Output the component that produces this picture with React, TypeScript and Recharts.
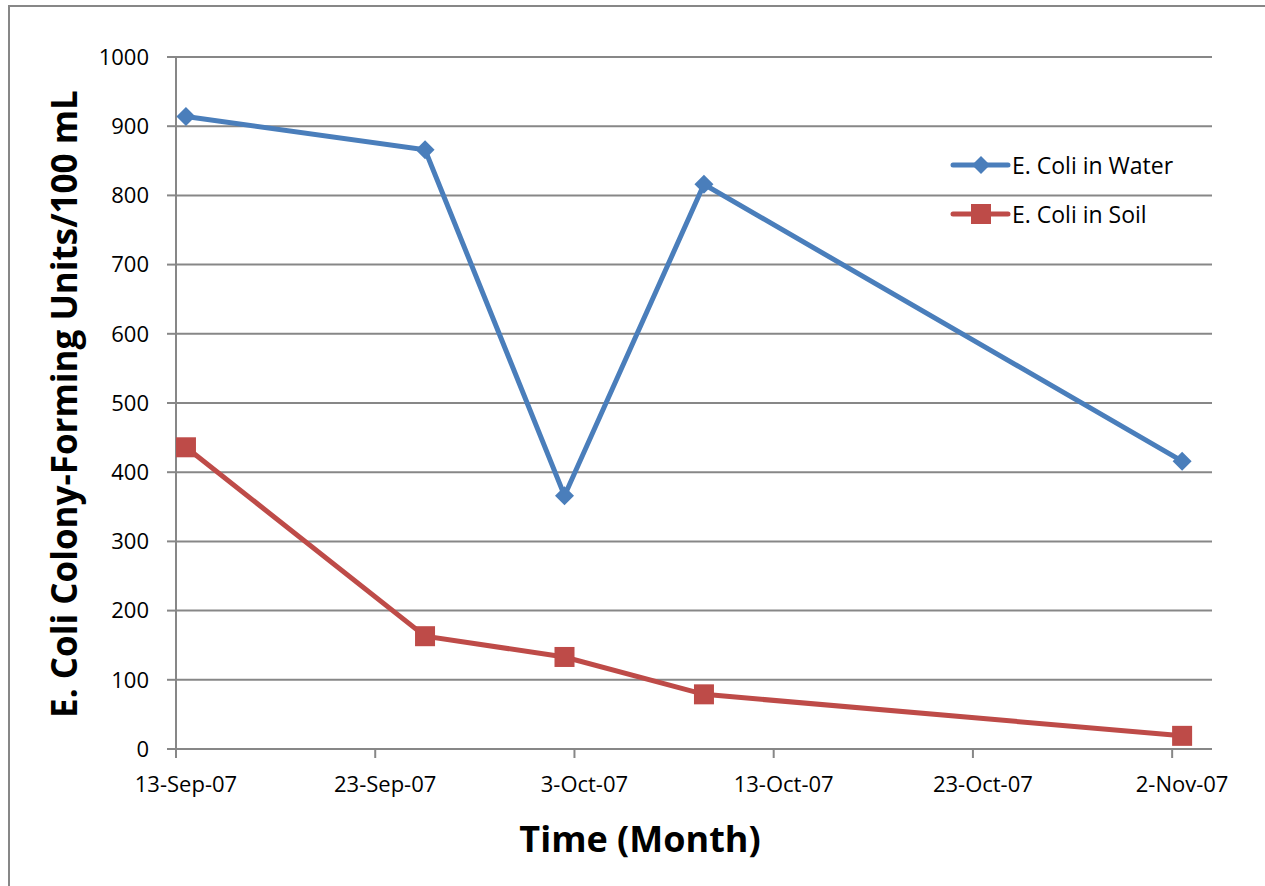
import { CartesianGrid, Label, Legend, Line, LineChart, XAxis, YAxis } from "recharts";

const sampleDates = ["13-Sep-07", "25-Sep-07", "2-Oct-07", "9-Oct-07", "2-Nov-07"];
const waterCfu = [914, 866, 366, 816, 416];
const soilCfu = [436, 163, 133, 79, 19];
const tickDates = ["13-Sep-07", "23-Sep-07", "3-Oct-07", "13-Oct-07", "23-Oct-07", "2-Nov-07"];
const yTicks = [0, 100, 200, 300, 400, 500, 600, 700, 800, 900, 1000];
const seriesOrder = ["water", "soil"];

const BLUE = "#4A7EBB";
const RED = "#BE4B48";
const GRID = "#878787";
const FONT = "'Open Sans', sans-serif";

const CHART_W = 1265;
const CHART_H = 886;
const MARGIN = { top: 57, right: 53, bottom: 0, left: 0 };
const Y_AXIS_W = 176;
const X_AXIS_H = 137;
const DOMAIN_DAYS = 52;

const MONTHS = ["Jan", "Feb", "Mar", "Apr", "May", "Jun", "Jul", "Aug", "Sep", "Oct", "Nov", "Dec"];

// "13-Sep-07" -> whole days since epoch
function dayOf(label: string) {
  const [d, m, y] = label.split("-");
  return Date.UTC(2000 + Number(y), MONTHS.indexOf(m), Number(d)) / 86400000;
}

const startDay = dayOf(tickDates[0]);
const tickDays = tickDates.map(dayOf);

// Excel plots each date in the middle of its day
const data = sampleDates.map((date, i) => ({
  x: dayOf(date) + 0.5,
  water: waterCfu[i],
  soil: soilCfu[i]
}));

const plotW = CHART_W - MARGIN.left - MARGIN.right - Y_AXIS_W;
const halfDayPx = plotW / DOMAIN_DAYS / 2;

function DiamondDot(props: any) {
  const { cx, cy, index } = props;
  if (cx == null || cy == null) return null;
  const r = 9.5;
  return (
    <polygon
      key={`w-${index}`}
      points={`${cx},${cy - r} ${cx + r},${cy} ${cx},${cy + r} ${cx - r},${cy}`}
      fill={BLUE}
    />
  );
}

function SquareDot(props: any) {
  const { cx, cy, index } = props;
  if (cx == null || cy == null) return null;
  const s = 10;
  return <rect key={`s-${index}`} x={cx - s} y={cy - s} width={s * 2} height={s * 2} fill={RED} />;
}

function LegendBox({ payload }: any) {
  const items = [...(payload ?? [])].sort(
    (a: any, b: any) => seriesOrder.indexOf(a.dataKey) - seriesOrder.indexOf(b.dataKey)
  );
  return (
    <div style={{ fontFamily: FONT }}>
      {items.map((item: any) => {
        const isWater = item.dataKey === "water";
        return (
          <div key={item.value} style={{ display: "flex", alignItems: "center", height: 49 }}>
            <svg width={62} height={24}>
              <line x1={3} y1={12} x2={58} y2={12} stroke={item.color} strokeWidth={5} strokeLinecap="round" />
              {isWater ? (
                <polygon points="31,3 40,12 31,21 22,12" fill={item.color} />
              ) : (
                <rect x={21} y={2} width={20} height={20} fill={item.color} />
              )}
            </svg>
            <span style={{ fontSize: 23, color: "#000", marginLeft: 0 }}>{item.value}</span>
          </div>
        );
      })}
    </div>
  );
}

export default function App() {
  return (
    <div
      style={{
        position: "fixed",
        left: 0,
        top: 0,
        width: CHART_W,
        height: CHART_H,
        overflow: "hidden",
        background: "#fff",
        fontFamily: FONT
      }}
    >
      <div
        style={{
          position: "absolute",
          left: 8,
          top: 5,
          width: 1400,
          height: 1000,
          border: `2px solid ${GRID}`
        }}
      />
      <div style={{ position: "absolute", left: 0, top: 0 }}>
        <LineChart width={CHART_W} height={CHART_H} data={data} margin={MARGIN}>
          <CartesianGrid vertical={false} stroke={GRID} strokeWidth={2} />
          <XAxis
            type="number"
            dataKey="x"
            domain={[startDay, startDay + DOMAIN_DAYS]}
            ticks={tickDays}
            tickFormatter={(v: number) => tickDates[tickDays.indexOf(v)] ?? ""}
            height={X_AXIS_H}
            tickSize={9}
            tickMargin={18}
            axisLine={{ stroke: GRID, strokeWidth: 2 }}
            tickLine={{ stroke: GRID, strokeWidth: 2 }}
            tick={{ fill: "#000", fontSize: 22, fontFamily: FONT, dx: halfDayPx }}
            allowDataOverflow
          >
            <Label
              content={() => (
                <text
                  x={640}
                  y={852}
                  textAnchor="middle"
                  fontFamily={FONT}
                  fontWeight={700}
                  fontSize={36}
                  fill="#000"
                >
                  Time (Month)
                </text>
              )}
            />
          </XAxis>
          <YAxis
            domain={[0, 1000]}
            ticks={yTicks}
            width={Y_AXIS_W}
            tickSize={9}
            tickMargin={18}
            axisLine={{ stroke: GRID, strokeWidth: 2 }}
            tickLine={{ stroke: GRID, strokeWidth: 2 }}
            tick={{ fill: "#000", fontSize: 22, fontFamily: FONT }}
          >
            <Label
              content={() => (
                <text
                  x={63}
                  y={404}
                  transform="rotate(-90 63 404)"
                  textAnchor="middle"
                  dominantBaseline="central"
                  fontFamily={FONT}
                  fontWeight={700}
                  fontSize={35}
                  fill="#000"
                >
                  E. Coli Colony-Forming Units/100 mL
                </text>
              )}
            />
          </YAxis>
          <Legend
            layout="vertical"
            align="center"
            verticalAlign="middle"
            content={<LegendBox />}
            wrapperStyle={{ left: 950, top: 140, width: 280 }}
          />
          <Line
            type="linear"
            dataKey="water"
            name="E. Coli in Water"
            stroke={BLUE}
            strokeWidth={5}
            dot={DiamondDot}
            activeDot={false}
            isAnimationActive={false}
          />
          <Line
            type="linear"
            dataKey="soil"
            name="E. Coli in Soil"
            stroke={RED}
            strokeWidth={5}
            dot={SquareDot}
            activeDot={false}
            isAnimationActive={false}
          />
        </LineChart>
      </div>
    </div>
  );
}
